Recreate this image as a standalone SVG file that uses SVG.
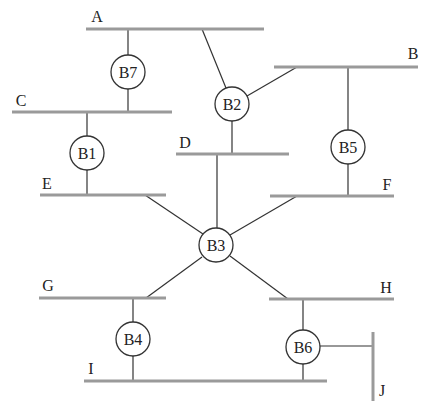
<svg xmlns="http://www.w3.org/2000/svg" width="440" height="418" viewBox="0 0 440 418">
<style>
.bus{stroke:#9a9a9a;stroke-width:3;fill:none}
.c{stroke:#333;stroke-width:1.2;fill:none}
.node circle{fill:#fff;stroke:#333;stroke-width:1.3}
text{font-family:"Liberation Serif","Times New Roman",serif;font-size:16px;fill:#222;text-anchor:middle}
</style>
<rect width="440" height="418" fill="#fff"/>
<g id="connectors">
<line class="c" x1="128" y1="29" x2="128" y2="55"/>
<line class="c" x1="128" y1="89" x2="128" y2="112"/>
<line class="c" x1="87" y1="112" x2="87" y2="136"/>
<line class="c" x1="87" y1="170" x2="87" y2="195"/>
<line class="c" x1="202" y1="29" x2="226" y2="88"/>
<line class="c" x1="247" y1="96" x2="297" y2="67"/>
<line class="c" x1="232" y1="121" x2="232" y2="154"/>
<line class="c" x1="348" y1="67" x2="348" y2="130"/>
<line class="c" x1="348" y1="164" x2="348" y2="196"/>
<line class="c" x1="217" y1="154" x2="217" y2="228"/>
<line class="c" x1="145" y1="195" x2="203" y2="234"/>
<line class="c" x1="297" y1="196" x2="230" y2="235"/>
<line class="c" x1="146" y1="298" x2="202" y2="257"/>
<line class="c" x1="288" y1="299" x2="230" y2="256"/>
<line class="c" x1="133" y1="298" x2="133" y2="322"/>
<line class="c" x1="133" y1="356" x2="133" y2="381"/>
<line class="c" x1="303" y1="299" x2="303" y2="330"/>
<line class="c" x1="303" y1="364" x2="303" y2="381"/>
<line class="c" x1="320" y1="346" x2="373" y2="346"/>
</g>
<g id="bus-A"><line class="bus" x1="86" y1="29" x2="264" y2="29"/><text x="97" y="22">A</text></g>
<g id="bus-B"><line class="bus" x1="274" y1="67" x2="418" y2="67"/><text x="413" y="59">B</text></g>
<g id="bus-C"><line class="bus" x1="12" y1="112" x2="172" y2="112"/><text x="21" y="106">C</text></g>
<g id="bus-D"><line class="bus" x1="176" y1="154" x2="289" y2="154"/><text x="185" y="148">D</text></g>
<g id="bus-E"><line class="bus" x1="40" y1="195" x2="166" y2="195"/><text x="47" y="189">E</text></g>
<g id="bus-F"><line class="bus" x1="270" y1="196" x2="394" y2="196"/><text x="387" y="190">F</text></g>
<g id="bus-G"><line class="bus" x1="39" y1="298" x2="166" y2="298"/><text x="48" y="291">G</text></g>
<g id="bus-H"><line class="bus" x1="269" y1="299" x2="394" y2="299"/><text x="386" y="293">H</text></g>
<g id="bus-I"><line class="bus" x1="84" y1="381" x2="327" y2="381"/><text x="91" y="374">I</text></g>
<g id="bus-J"><line class="bus" x1="373" y1="332" x2="373" y2="401"/><text x="382" y="396">J</text></g>
<g id="B7" class="node"><circle cx="128" cy="72" r="17"/><text x="128" y="77.5">B7</text></g>
<g id="B1" class="node"><circle cx="87" cy="153" r="17"/><text x="87" y="158.5">B1</text></g>
<g id="B2" class="node"><circle cx="232" cy="104" r="17"/><text x="232" y="109.5">B2</text></g>
<g id="B5" class="node"><circle cx="348" cy="147" r="17"/><text x="348" y="152.5">B5</text></g>
<g id="B3" class="node"><circle cx="216" cy="245" r="17"/><text x="216" y="250.5">B3</text></g>
<g id="B4" class="node"><circle cx="133" cy="339" r="17"/><text x="133" y="344.5">B4</text></g>
<g id="B6" class="node"><circle cx="303" cy="347" r="17"/><text x="303" y="352.5">B6</text></g>
</svg>
